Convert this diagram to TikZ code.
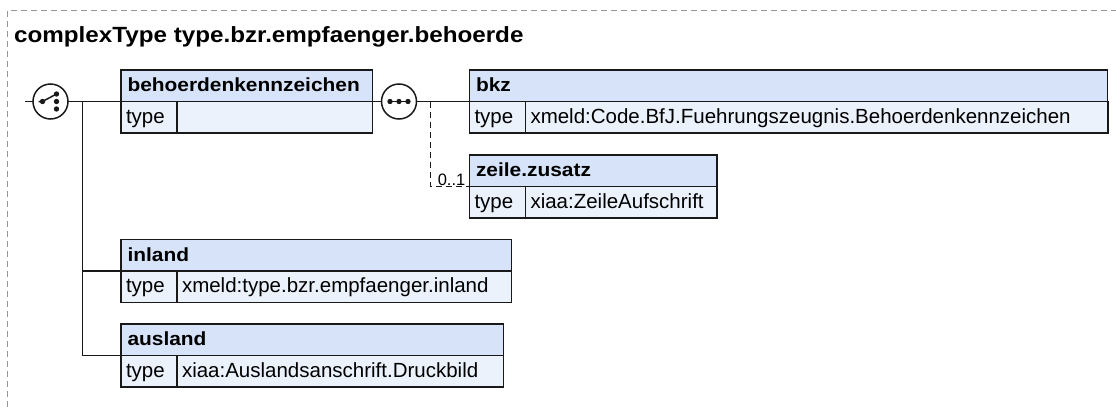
\documentclass[tikz,border=0pt]{standalone}
\usepackage{fontspec}
\setmainfont{Liberation Sans}
\newfontfamily\widefont{Liberation Sans}[FakeStretch=1.1]
\usepackage{tikz}
\usetikzlibrary{positioning}
\definecolor{hdrblue}{RGB}{214,227,248}
\definecolor{rowblue}{RGB}{235,242,252}
\definecolor{edge}{RGB}{25,25,25}
\definecolor{framegray}{RGB}{150,150,150}

\begin{document}
\begin{tikzpicture}[x=1pt, y=-1pt,
  hdr/.style={rectangle, draw=edge, fill=hdrblue, line width=1.5pt, outer sep=0pt,
    anchor=north west, minimum height=31.5pt, inner xsep=6.5pt, inner ysep=0pt,
    text height=16.5pt, text depth=4.5pt, align=left,
    font=\widefont\fontsize{19pt}{23pt}\selectfont\bfseries},
  tcell/.style={rectangle, draw=edge, fill=rowblue, line width=1.5pt, outer sep=0pt,
    anchor=north west, minimum height=31.5pt, inner xsep=5pt, inner ysep=0pt,
    text height=17pt, text depth=5pt, align=left, text width=46pt,
    font=\fontsize{20.5pt}{24pt}\selectfont},
  vcell/.style={tcell, text width=#1},
  comp/.style={circle, draw=edge, fill=white, line width=1.5pt, outer sep=0pt,
    minimum size=35pt, inner sep=0pt},
  wire/.style={line width=1.5pt, draw=edge},
  optwire/.style={wire, dash pattern=on 6pt off 4pt},
  card/.style={font=\fontsize{16.5pt}{18pt}\selectfont, inner sep=1pt},
  titletext/.style={font=\widefont\fontsize{22pt}{26pt}\selectfont\bfseries, inner sep=0pt}
]
\useasboundingbox (0,0) rectangle (1116,407);

% frame and title
\draw[framegray, line width=1pt, dash pattern=on 6pt off 4pt]
  (7.5,407) -- (7.5,10.5) -- (1116,10.5);
\node[titletext, anchor=base west] (title) at (14,42.3)
  {complexType type.bzr.empfaenger.behoerde};

% choice compositor
\coordinate (start) at (25,101.5);
\node[comp] (choice) at (50.5,101.5) {};
\draw[wire] ([xshift=-12pt]choice.center) -- ([xshift=-8pt]choice.center)
  -- ([shift={(6,-7.5)}]choice.center);
\fill[edge] ([xshift=-8pt]choice.center) circle (2.7);
\foreach \dy in {-7.5,0,7.5}
  \fill[edge] ([shift={(6,\dy)}]choice.center) circle (2.7);

% behoerdenkennzeichen
\node[hdr, text width=238.7pt] (hdrA) at (121,70) {behoerdenkennzeichen};
\node[tcell] (tA) at (hdrA.south west) {type};
\node[vcell=185.7pt] (vA) at (tA.north east) {};

% inland
\node[hdr, text width=377.7pt] (hdrI) at (121,239.5) {inland};
\node[tcell] (tI) at (hdrI.south west) {type};
\node[vcell=324.7pt] (vI) at (tI.north east) {xmeld:type.bzr.empfaenger.inland};

% ausland
\node[hdr, text width=369.3pt] (hdrU) at (121,324) {ausland};
\node[tcell] (tU) at (hdrU.south west) {type};
\node[vcell=316.3pt] (vU) at (tU.north east) {xiaa:Auslandsanschrift.Druckbild};

% sequence compositor
\node[comp] (seq) at (399,101.5) {};
\draw[wire] ([xshift=-11pt]seq.center) -- ([xshift=11pt]seq.center);
\foreach \dx in {-9,0,9}
  \fill[edge] ([xshift=\dx]seq.center) circle (2.7);

% bkz
\node[hdr, text width=625pt] (hdrB) at (469.5,70) {bkz};
\node[tcell] (tB) at (hdrB.south west) {type};
\node[vcell=572.5pt] (vB) at (tB.north east) {xmeld:Code.BfJ.Fuehrungszeugnis.Behoerdenkennzeichen};

% zeile.zusatz
\node[hdr, text width=234.5pt] (hdrZ) at (469.5,155) {zeile.zusatz};
\node[tcell] (tZ) at (hdrZ.south west) {type};
\node[vcell=181.5pt] (vZ) at (tZ.north east) {xiaa:ZeileAufschrift};
\node[card, anchor=south east, xshift=-3pt] (cardZ) at (hdrZ.south west) {0..1};

% connectors
\coordinate (branch) at (82.7,101.5);
\coordinate (opt) at (430.7,101.5);
\draw[wire] (start) -- (choice.west);
\draw[wire] (choice.east) -- (hdrA.south west);
\draw[wire] (branch) |- (hdrI.south west);
\draw[wire] (branch) |- (hdrU.south west);
\draw[wire] (hdrA.south east) -- (seq.west);
\draw[wire] (seq.east) -- (hdrB.south west);
\draw[optwire] (opt) |- (hdrZ.south west);
\end{tikzpicture}
\end{document}
